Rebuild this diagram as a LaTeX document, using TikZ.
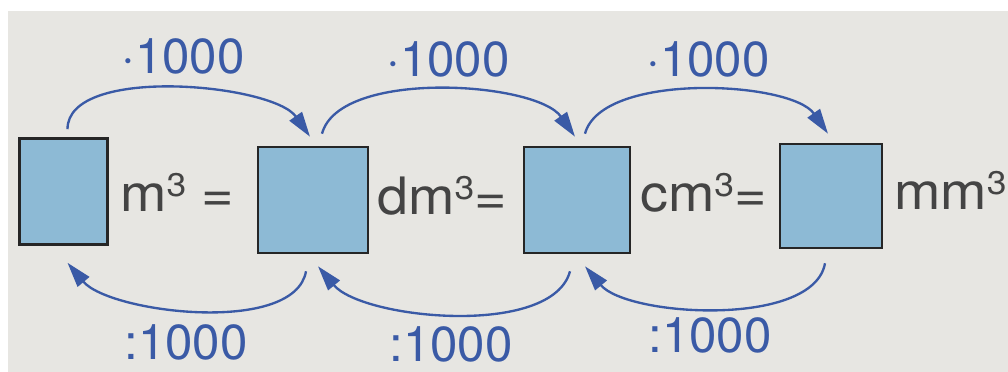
\documentclass[tikz,border=0pt]{standalone}
\usepackage{fontspec}
\setmainfont{TeX Gyre Heros}
\newfontfamily\unitfont[FakeStretch=1.08]{TeX Gyre Heros}
\usetikzlibrary{positioning, arrows.meta, calc}
\definecolor{paper}{HTML}{E7E6E2}
\definecolor{cellfill}{HTML}{8DBAD5}
\definecolor{cellborder}{HTML}{262626}
\definecolor{unittext}{HTML}{444444}
\definecolor{convblue}{HTML}{3A5AA6}
\newcommand\cubed{\raisebox{0.3em}{\fontsize{28}{30}\selectfont 3}}

\begin{document}
\begin{tikzpicture}[
    x=0.03cm, y=0.03cm,
    >={Triangle[length=0.75cm, width=0.45cm]},
    cell/.style={draw=cellborder, fill=cellfill, line width=2.2pt,
                 inner sep=0pt, minimum height=3.18cm},
    unit/.style={anchor=base west, inner sep=0pt, text=unittext,
                 font=\unitfont\fontsize{44}{48}\selectfont},
    fac/.style={anchor=base, inner sep=0pt, text=convblue,
                font=\fontsize{42}{48}\selectfont},
    conv/.style={->, draw=convblue, line width=2pt},
]
\useasboundingbox (0,0) rectangle (1008,372);
\fill[white] (0,0) rectangle (1008,372);
\fill[paper] (8,0) rectangle (1008,361);

% the four empty boxes
\node[cell, minimum width=2.64cm] (b1) at (63.5,180.5) {};
\node[cell, minimum width=3.30cm] (b2) at (313,172) {};
\node[cell, minimum width=3.18cm] (b3) at (577,172) {};
\node[cell, minimum width=3.06cm, minimum height=3.12cm] (b4) at (831,176) {};

% units
\node[unit] (u1) at (120,160) {m\cubed\ =};
\node[unit] (u2) at (377,157) {dm\cubed=};
\node[unit] (u3) at (640,160) {cm\cubed=};
\node[unit] (u4) at (894,162) {mm\cubed};

% factors
\node[fac] (m1) at (183,298) {·1000};
\node[fac] (m2) at (448,295) {·1000};
\node[fac] (m3) at (708,295) {·1000};
\node[fac] (d1) at (186,12) {:1000};
\node[fac] (d2) at (451,10) {:1000};
\node[fac] (d3) at (710,19) {:1000};

% multiply: to the right, above
\draw[conv] ($(b1.north)+(4,8)$) to[out=90, in=125, looseness=0.68] ($(b2.north)+(-3,9)$);
\draw[conv] ($(b2.north)+(9,12)$) to[out=75, in=125, looseness=0.68] ($(b3.north)+(-2,9)$);
\draw[conv] ($(b3.north)+(8,12)$) to[out=75, in=125, looseness=0.68] ($(b4.north)+(-3,9)$);

% divide: to the left, below
\draw[conv] ($(b2.south)+(-7,-17)$) to[out=-100, in=-50, looseness=0.7] ($(b1.south)+(4,-17)$);
\draw[conv] ($(b3.south)+(-7,-17)$) to[out=-105, in=-50, looseness=0.7] ($(b2.south)+(5,-12)$);
\draw[conv] ($(b4.south)+(-6,-14)$) to[out=-100, in=-50, looseness=0.7] ($(b3.south)+(8,-12)$);

\end{tikzpicture}
\end{document}
